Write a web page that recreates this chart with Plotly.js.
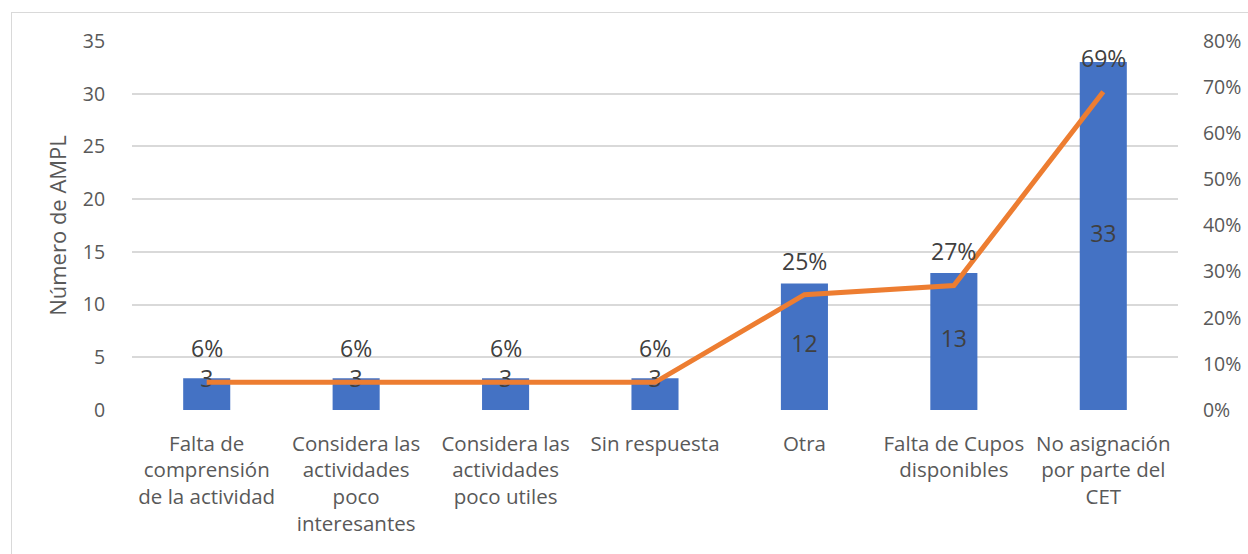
<!DOCTYPE html>
<html>
<head>
<meta charset="utf-8">
<script src="https://cdn.plot.ly/plotly-3.0.1.min.js"></script>
<style>
html,body{margin:0;padding:0;background:#fff;overflow:hidden;}
#frame{position:absolute;left:11px;top:12px;width:1260px;height:560px;border:1.5px solid #d9d9d9;box-sizing:border-box;pointer-events:none;z-index:5;}
#chart{width:1248px;height:554px;}
</style>
</head>
<body>
<div id="frame"></div>
<div id="chart"></div>
<script>
const categories = [
  "Falta de<br>comprensión<br>de la actividad",
  "Considera las<br>actividades<br>poco<br>interesantes",
  "Considera las<br>actividades<br>poco utiles",
  "Sin respuesta",
  "Otra",
  "Falta de Cupos<br>disponibles",
  "No asignación<br>por parte del<br>CET"
];
const counts = [3, 3, 3, 3, 12, 13, 33];
const percents = [0.06, 0.06, 0.06, 0.06, 0.25, 0.27, 0.69];
const leftTicks = [0, 5, 10, 15, 20, 25, 30, 35];
const rightTicks = [0, 0.1, 0.2, 0.3, 0.4, 0.5, 0.6, 0.7, 0.8];

const FONT = "Open Sans, DejaVu Sans, sans-serif";
const labelColor = "#404040";
const tickColor = "#595959";

const barTrace = {
  type: "bar", x: categories, y: counts, width: 0.315,
  marker: {color: "#4472c4"}, hoverinfo: "none", showlegend: false
};
const lineTrace = {
  type: "scatter", mode: "lines", x: categories, y: percents, yaxis: "y2",
  line: {color: "#ed7d31", width: 5}, hoverinfo: "none", showlegend: false
};
const countLabels = {
  type: "scatter", mode: "text", x: categories,
  y: counts.map(v => Math.max(v / 2, 2.7)),
  text: counts.map(String), textposition: "middle center",
  textfont: {family: FONT, size: 23, color: labelColor},
  hoverinfo: "none", showlegend: false
};

const annotations = categories.map((c, i) => ({
  x: c, y: percents[i], xref: "x", yref: "y2",
  text: Math.round(percents[i] * 100) + "%", showarrow: false,
  yshift: 34, font: {family: FONT, size: 23, color: labelColor}
}));

const layout = {
  width: 1248, height: 554,
  margin: {l: 132, r: 70, t: 41, b: 144},
  paper_bgcolor: "#fff", plot_bgcolor: "#fff",
  font: {family: FONT, color: tickColor, size: 19},
  xaxis: {
    type: "category", showgrid: false, zeroline: false, showline: false,
    ticks: "outside", ticklen: 15, tickcolor: "rgba(0,0,0,0)",
    tickfont: {family: FONT, size: 20.5, color: tickColor}
  },
  yaxis: {
    range: [0, 35], tickvals: leftTicks, ticktext: leftTicks.map(String),
    showgrid: true, gridcolor: "#d9d9d9", gridwidth: 2,
    zeroline: false, showline: false,
    ticks: "outside", ticklen: 22, tickcolor: "rgba(0,0,0,0)",
    tickfont: {family: FONT, size: 19.5, color: tickColor},
    title: {text: "Número de AMPL", font: {family: FONT, size: 22, color: tickColor}, standoff: 10}
  },
  yaxis2: {
    overlaying: "y", side: "right", range: [0, 0.8],
    tickvals: rightTicks, ticktext: rightTicks.map(v => Math.round(v * 100) + "%"),
    showgrid: false, zeroline: false, showline: false,
    ticks: "outside", ticklen: 20, tickcolor: "rgba(0,0,0,0)",
    tickfont: {family: FONT, size: 19.5, color: tickColor}
  },
  annotations: annotations,
  bargap: 0.5
};

Plotly.newPlot("chart", [barTrace, lineTrace, countLabels], layout, {displayModeBar: false, staticPlot: true});
</script>
</body>
</html>
